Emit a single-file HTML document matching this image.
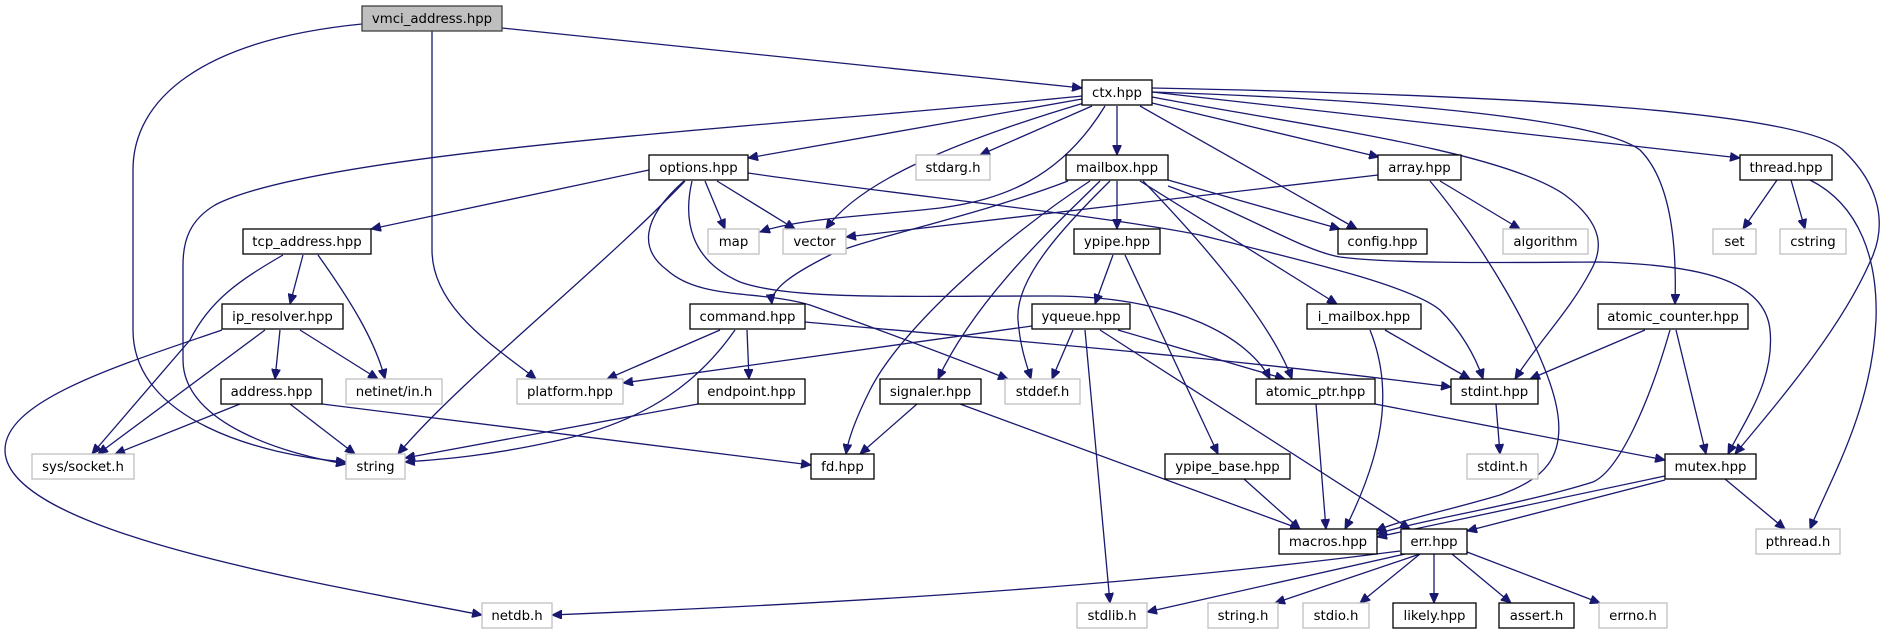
<!DOCTYPE html>
<html><head><meta charset="utf-8"><style>
html,body{margin:0;padding:0;background:#fff;}
svg{display:block;}
text{font-family:"DejaVu Sans","Liberation Sans",sans-serif;font-size:13.3px;fill:#000;text-anchor:middle;}
.e{fill:none;stroke:#191970;stroke-width:1.3;marker-end:url(#a);}
.n{fill:#fff;stroke:#000;stroke-width:1.3;}
.g{fill:#fff;stroke:#bfbfbf;stroke-width:1.3;}
</style></head><body>
<svg width="1888" height="635" viewBox="0 0 1888 635" xmlns="http://www.w3.org/2000/svg">
<defs><marker id="a" markerWidth="11" markerHeight="9" refX="10" refY="4.5" orient="auto" markerUnits="userSpaceOnUse"><path d="M0,0 L10,4.5 L0,9 z" fill="#191970" stroke="#191970"/></marker></defs>

<!-- edges -->
<path class="e" d="M362,24 C200,40 133,100 133,170 L133,330 C133,420 260,455 346,462"/>
<path class="e" d="M432,31 L432,250 C432,310 500,350 536,379"/>
<path class="e" d="M502,28 L1082,88"/>
<path class="e" d="M1082,96 C800,125 320,150 215,205 C190,220 183,240 183,265 L183,360 C183,425 290,455 346,464"/>
<path class="e" d="M1082,99 L748,158"/>
<path class="e" d="M1092,106 L980,155"/>
<path class="e" d="M1084,103 C960,140 860,180 826,229"/>
<path class="e" d="M1105,106 C1060,180 1000,200 940,208 C880,215 800,218 760,232"/>
<path class="e" d="M1117,106 L1117,155"/>
<path class="e" d="M1140,106 L1357,229"/>
<path class="e" d="M1152,103 L1379,157"/>
<path class="e" d="M1152,92 L1740,158"/>
<path class="e" d="M1152,88 C1500,95 1800,110 1843,150 C1880,185 1888,225 1870,262 C1840,330 1780,400 1735,454"/>
<path class="e" d="M1152,92 C1400,100 1600,120 1640,150 C1670,180 1677,240 1675,304"/>
<path class="e" d="M1152,97 C1300,125 1500,150 1565,195 C1605,225 1603,250 1590,272 C1570,310 1540,340 1515,379"/>
<path class="e" d="M1777,180 L1743,229"/>
<path class="e" d="M1791,180 L1805,229"/>
<path class="e" d="M1810,180 C1860,205 1878,260 1876,320 C1872,410 1830,480 1810,529"/>
<path class="e" d="M1645,330 L1530,379"/>
<path class="e" d="M1676,330 L1706,454"/>
<path class="e" d="M1670,330 C1650,400 1620,470 1593,482 C1520,505 1420,520 1377,534"/>
<path class="e" d="M1665,476 L1377,537"/>
<path class="e" d="M1665,480 L1467,531"/>
<path class="e" d="M1725,479 L1785,529"/>
<path class="e" d="M1375,404 L1665,460"/>
<path class="e" d="M1117,181 L1117,229"/>
<path class="e" d="M1168,180 L1340,229"/>
<path class="e" d="M1068,181 C980,215 860,240 830,255 C790,275 770,290 772,304"/>
<path class="e" d="M1090,181 C1000,240 900,330 870,390 C855,420 848,440 846,454"/>
<path class="e" d="M1100,181 C1050,230 975,300 938,379"/>
<path class="e" d="M1110,181 C1060,230 1015,280 1018,320 C1020,345 1025,360 1031,379"/>
<path class="e" d="M1140,181 L1337,304"/>
<path class="e" d="M1168,186 C1250,215 1300,250 1340,257 C1400,265 1550,262 1600,262 C1700,265 1765,280 1770,330 C1775,380 1745,420 1728,454"/>
<path class="e" d="M748,173 C900,195 1100,215 1200,235 C1300,260 1410,285 1440,310 C1460,330 1475,355 1483,379"/>
<path class="e" d="M1143,181 C1200,240 1270,320 1292,379"/>
<path class="e" d="M649,170 L371,229"/>
<path class="e" d="M705,181 L725,229"/>
<path class="e" d="M717,181 L795,229"/>
<path class="e" d="M685,181 C600,270 460,380 398,454"/>
<path class="e" d="M684,181 C640,220 640,250 667,270 C700,300 760,290 810,305 C880,330 960,360 1008,379"/>
<path class="e" d="M692,181 C683,220 690,260 740,282 C790,300 900,296 1050,296 C1180,296 1250,340 1270,379"/>
<path class="e" d="M1032,326 L623,383"/>
<path class="e" d="M1073,330 L1052,379"/>
<path class="e" d="M1118,330 L1285,379"/>
<path class="e" d="M1085,330 L1110,603"/>
<path class="e" d="M1100,330 L1410,529"/>
<path class="e" d="M1113,255 L1095,304"/>
<path class="e" d="M1125,255 L1218,454"/>
<path class="e" d="M917,404 L860,454"/>
<path class="e" d="M960,404 L1300,529"/>
<path class="e" d="M1316,404 L1326,529"/>
<path class="e" d="M1244,479 L1300,529"/>
<path class="e" d="M1496,404 L1500,454"/>
<path class="e" d="M1385,330 L1470,379"/>
<path class="e" d="M1370,330 C1390,380 1390,440 1345,529"/>
<path class="e" d="M1378,175 L846,237"/>
<path class="e" d="M1440,181 L1520,229"/>
<path class="e" d="M1430,181 C1480,240 1540,340 1555,400 C1570,460 1540,480 1500,495 C1450,510 1400,520 1376,531"/>
<path class="e" d="M1400,551 C1100,590 800,605 552,615"/>
<path class="e" d="M1405,554 L1147,612"/>
<path class="e" d="M1420,554 L1275,603"/>
<path class="e" d="M1420,554 L1360,603"/>
<path class="e" d="M1434,554 L1434,603"/>
<path class="e" d="M1452,554 L1511,603"/>
<path class="e" d="M1467,552 L1600,603"/>
<path class="e" d="M720,330 L607,379"/>
<path class="e" d="M747,330 L749,379"/>
<path class="e" d="M735,330 C700,380 650,420 560,440 C480,458 430,460 405,462"/>
<path class="e" d="M698,404 L405,458"/>
<path class="e" d="M805,322 C1000,340 1200,355 1451,387"/>
<path class="e" d="M322,404 L811,465"/>
<path class="e" d="M290,404 L355,454"/>
<path class="e" d="M240,404 L115,454"/>
<path class="e" d="M280,330 L275,379"/>
<path class="e" d="M300,330 L378,379"/>
<path class="e" d="M265,330 L98,454"/>
<path class="e" d="M222,330 C120,365 5,400 5,450 C5,530 300,580 482,615"/>
<path class="e" d="M303,255 L290,304"/>
<path class="e" d="M283,255 C240,280 210,300 190,340 L92,454"/>
<path class="e" d="M318,255 C350,300 375,340 385,379"/>

<!-- nodes -->
<rect x="362" y="6" width="140" height="25" fill="#bfbfbf" stroke="#404040" stroke-width="1.3"/><text x="432" y="23">vmci_address.hpp</text>
<rect class="n" x="1082" y="80" width="70" height="25"/><text x="1117" y="97">ctx.hpp</text>
<rect class="n" x="649" y="155" width="99" height="25"/><text x="698.5" y="172">options.hpp</text>
<rect class="g" x="916" y="155" width="74" height="25"/><text x="953" y="172">stdarg.h</text>
<rect class="n" x="1066" y="155" width="102" height="25"/><text x="1117" y="172">mailbox.hpp</text>
<rect class="n" x="1378" y="155" width="83" height="25"/><text x="1419.5" y="172">array.hpp</text>
<rect class="n" x="1740" y="155" width="92" height="25"/><text x="1786" y="172">thread.hpp</text>
<rect class="n" x="243" y="229" width="128" height="25"/><text x="307" y="246">tcp_address.hpp</text>
<rect class="g" x="708" y="229" width="51" height="25"/><text x="733.5" y="246">map</text>
<rect class="g" x="783" y="229" width="63" height="25"/><text x="814.5" y="246">vector</text>
<rect class="n" x="1074" y="229" width="86" height="25"/><text x="1117" y="246">ypipe.hpp</text>
<rect class="n" x="1338" y="229" width="89" height="25"/><text x="1382.5" y="246">config.hpp</text>
<rect class="g" x="1503" y="229" width="85" height="25"/><text x="1545.5" y="246">algorithm</text>
<rect class="g" x="1713" y="229" width="43" height="25"/><text x="1734.5" y="246">set</text>
<rect class="g" x="1780" y="229" width="66" height="25"/><text x="1813" y="246">cstring</text>
<rect class="n" x="222" y="304" width="121" height="25"/><text x="282.5" y="321">ip_resolver.hpp</text>
<rect class="n" x="690" y="304" width="115" height="25"/><text x="747.5" y="321">command.hpp</text>
<rect class="n" x="1032" y="304" width="98" height="25"/><text x="1081" y="321">yqueue.hpp</text>
<rect class="n" x="1307" y="304" width="114" height="25"/><text x="1364" y="321">i_mailbox.hpp</text>
<rect class="n" x="1598" y="304" width="150" height="25"/><text x="1673" y="321">atomic_counter.hpp</text>
<rect class="n" x="221" y="379" width="101" height="25"/><text x="271.5" y="396">address.hpp</text>
<rect class="g" x="346" y="379" width="96" height="25"/><text x="394" y="396">netinet/in.h</text>
<rect class="g" x="517" y="379" width="106" height="25"/><text x="570" y="396">platform.hpp</text>
<rect class="n" x="698" y="379" width="107" height="25"/><text x="751.5" y="396">endpoint.hpp</text>
<rect class="g" x="1005" y="379" width="75" height="25"/><text x="1042.5" y="396">stddef.h</text>
<rect class="n" x="880" y="379" width="101" height="25"/><text x="930.5" y="396">signaler.hpp</text>
<rect class="n" x="1256" y="379" width="119" height="25"/><text x="1315.5" y="396">atomic_ptr.hpp</text>
<rect class="n" x="1451" y="379" width="87" height="25"/><text x="1494.5" y="396">stdint.hpp</text>
<rect class="g" x="32" y="454" width="102" height="25"/><text x="83" y="471">sys/socket.h</text>
<rect class="g" x="346" y="454" width="59" height="25"/><text x="375.5" y="471">string</text>
<rect class="n" x="811" y="454" width="63" height="25"/><text x="842.5" y="471">fd.hpp</text>
<rect class="n" x="1165" y="454" width="125" height="25"/><text x="1227.5" y="471">ypipe_base.hpp</text>
<rect class="g" x="1467" y="454" width="71" height="25"/><text x="1502.5" y="471">stdint.h</text>
<rect class="n" x="1665" y="454" width="91" height="25"/><text x="1710.5" y="471">mutex.hpp</text>
<rect class="n" x="1279" y="529" width="98" height="25"/><text x="1328" y="546">macros.hpp</text>
<rect class="n" x="1401" y="529" width="66" height="25"/><text x="1434" y="546">err.hpp</text>
<rect class="g" x="1756" y="529" width="84" height="25"/><text x="1798" y="546">pthread.h</text>
<rect class="g" x="482" y="603" width="70" height="25"/><text x="517" y="620">netdb.h</text>
<rect class="g" x="1077" y="603" width="70" height="25"/><text x="1112" y="620">stdlib.h</text>
<rect class="g" x="1208" y="603" width="70" height="25"/><text x="1243" y="620">string.h</text>
<rect class="g" x="1303" y="603" width="66" height="25"/><text x="1336" y="620">stdio.h</text>
<rect class="n" x="1393" y="603" width="83" height="25"/><text x="1434.5" y="620">likely.hpp</text>
<rect class="n" x="1499" y="603" width="75" height="25"/><text x="1536.5" y="620">assert.h</text>
<rect class="g" x="1599" y="603" width="68" height="25"/><text x="1633" y="620">errno.h</text>
</svg>
</body></html>
